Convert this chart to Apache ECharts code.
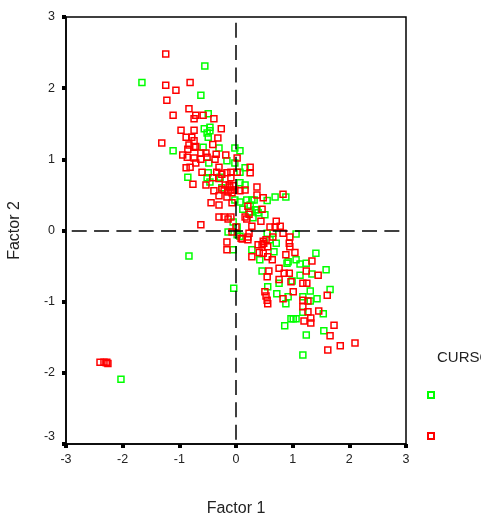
<!DOCTYPE html>
<html><head><meta charset="utf-8">
<style>html,body{margin:0;padding:0;background:#fff}#c{width:481px;height:515px}</style>
<script src="https://cdn.jsdelivr.net/npm/echarts@6/dist/echarts.min.js"></script>
</head><body><div id="c"></div>
<script>
var seriesNames = ['1','2'];
var legendTitle = 'CURSO';
var xName = 'Factor 1';
var yName = 'Factor 2';
var green = [[-0.55,2.31],[-1.66,2.08],[-0.62,1.90],[-0.49,1.64],[-0.56,1.43],[-0.46,1.45],[-0.46,1.40],[-0.51,1.37],[-0.49,1.31],[-1.11,1.12],[-0.58,1.17],[-0.30,1.16],[-0.02,1.16],[0.07,1.12],[-0.16,0.98],[-0.48,0.95],[-0.02,0.95],[0.16,0.88],[-0.85,0.75],[-0.49,0.81],[-0.51,0.74],[-0.46,0.68],[-0.28,0.75],[0.07,0.82],[0.16,0.64],[0.07,0.67],[-0.25,0.60],[-0.02,0.43],[0.07,0.40],[0.19,0.43],[0.28,0.43],[0.12,0.30],[0.25,0.36],[0.34,0.29],[0.30,0.18],[0.39,0.25],[-0.05,0.12],[-0.14,-0.02],[0.02,-0.06],[0.28,-0.27],[-0.05,-0.27],[-0.83,-0.36],[0.69,0.47],[0.88,0.47],[0.55,0.42],[0.32,0.43],[0.37,0.29],[0.51,0.22],[0.25,0.26],[0.02,0.05],[1.06,-0.05],[0.65,-0.04],[0.55,-0.04],[0.07,-0.08],[0.60,-0.13],[0.71,-0.18],[0.67,-0.30],[1.41,-0.32],[0.92,-0.44],[1.06,-0.41],[0.42,-0.41],[0.90,-0.46],[1.13,-0.47],[1.24,-0.46],[0.46,-0.57],[1.59,-0.55],[1.34,-0.61],[1.13,-0.63],[0.76,-0.74],[0.99,-0.71],[0.56,-0.79],[-0.04,-0.81],[1.31,-0.85],[1.66,-0.83],[0.72,-0.89],[0.92,-0.93],[1.43,-0.96],[0.88,-1.03],[1.18,-0.93],[1.31,-0.99],[1.18,-1.15],[1.54,-1.17],[0.97,-1.24],[1.01,-1.24],[1.06,-1.24],[0.86,-1.34],[1.55,-1.41],[1.24,-1.47],[1.18,-1.75],[-2.03,-2.09]];
var red = [[-1.24,2.48],[-1.24,2.04],[-0.81,2.08],[-1.06,1.97],[-1.22,1.83],[-0.83,1.71],[-1.11,1.62],[-0.71,1.62],[-0.58,1.62],[-0.74,1.57],[-0.39,1.57],[-0.97,1.41],[-0.74,1.41],[-0.26,1.43],[-0.88,1.31],[-0.78,1.31],[-0.32,1.30],[-0.74,1.26],[-1.31,1.23],[-0.83,1.20],[-0.41,1.21],[-0.74,1.17],[-0.85,1.14],[-0.71,1.18],[-0.94,1.06],[-0.86,1.03],[-0.74,1.02],[-0.71,0.95],[-0.62,1.09],[-0.62,1.00],[-0.53,1.09],[-0.51,1.03],[-0.35,1.07],[-0.37,1.00],[-0.18,1.06],[0.02,1.02],[-0.81,0.89],[-0.88,0.88],[-0.60,0.82],[-0.76,0.65],[-0.53,0.64],[-0.30,0.89],[-0.34,0.82],[-0.25,0.79],[-0.16,0.81],[-0.09,0.82],[-0.41,0.74],[-0.30,0.73],[-0.09,0.74],[0.02,0.82],[0.25,0.89],[0.25,0.81],[-0.39,0.56],[-0.30,0.49],[-0.19,0.64],[-0.21,0.57],[-0.11,0.61],[-0.14,0.54],[-0.07,0.53],[0.07,0.56],[0.16,0.57],[0.37,0.61],[0.37,0.50],[-0.16,0.47],[-0.02,0.57],[-0.07,0.39],[-0.44,0.39],[-0.30,0.36],[-0.30,0.19],[-0.21,0.19],[-0.14,0.16],[-0.09,0.19],[0.16,0.19],[0.19,0.16],[-0.62,0.08],[0.00,0.05],[-0.07,-0.02],[0.09,-0.11],[0.21,-0.09],[-0.16,-0.16],[-0.16,-0.27],[-0.12,0.64],[-0.05,0.63],[-0.25,0.58],[-0.09,0.57],[0.83,0.51],[0.48,0.46],[0.21,0.34],[0.46,0.30],[0.23,0.23],[0.44,0.13],[0.28,0.06],[0.60,0.05],[0.69,0.05],[0.78,0.06],[0.71,0.13],[0.23,-0.04],[0.83,-0.04],[0.95,-0.09],[0.11,-0.12],[0.21,-0.13],[0.48,-0.15],[0.65,-0.09],[0.94,-0.18],[0.46,-0.20],[0.56,-0.23],[0.95,-0.23],[0.41,-0.31],[0.48,-0.32],[1.04,-0.31],[0.88,-0.34],[0.28,-0.37],[0.56,-0.37],[0.64,-0.41],[1.34,-0.43],[0.76,-0.53],[0.58,-0.57],[0.85,-0.60],[0.94,-0.60],[1.24,-0.57],[1.45,-0.63],[0.55,-0.65],[0.76,-0.69],[0.97,-0.72],[1.18,-0.74],[1.25,-0.74],[0.51,-0.86],[1.01,-0.86],[0.53,-0.92],[0.55,-0.98],[0.83,-0.96],[0.56,-1.03],[1.18,-0.98],[1.27,-0.99],[1.18,-1.07],[1.61,-0.91],[1.46,-1.13],[1.27,-1.14],[1.32,-1.23],[1.20,-1.27],[1.32,-1.30],[1.73,-1.33],[1.66,-1.48],[2.10,-1.58],[1.84,-1.62],[1.62,-1.68],[0.49,-0.18],[0.53,-0.13],[0.39,-0.20],[-2.40,-1.85],[-2.33,-1.85],[-2.29,-1.86],[-2.26,-1.87],[-2.28,-1.85]];
var font = '"Liberation Sans", Arial, sans-serif';
var chart = echarts.init(document.getElementById('c'), null, {renderer:'canvas'});
function axis(name, gap, rot, margin, isY){
  return {type:'value',min:-3,max:3,interval:1,name:name,nameLocation:'middle',nameGap:gap,nameRotate:rot,
    nameTextStyle:{fontFamily:font,fontSize:16,color:'#222',letterSpacing:2},
    splitLine:{show:false},
    axisLine:{onZero:false,lineStyle:{color:'#000',width:1.5}},
    axisTick:{length:4,lineStyle:{color:'#000',width:4}},
    axisLabel:{margin:margin,fontFamily:font,fontSize:12.5,color:'#222',showMinLabel:true,showMaxLabel:true,
      formatter:function(v){return isY&&v===-3?'{low|-3}':String(v);},
      rich:{low:{fontFamily:font,fontSize:12.5,color:'#222',padding:[0,0,14,0]}}}};
}
function series(name,data,color,extra){
  var s={name:name,type:'scatter',data:data,symbol:'rect',symbolSize:6,
    itemStyle:{color:'rgba(0,0,0,0)',borderColor:color,borderWidth:1.5,opacity:1},
    emphasis:{disabled:true},animation:false};
  if(extra)s.markLine=extra;
  return s;
}
chart.setOption({
  animation:false,
  backgroundColor:'#fff',
  grid:{left:66,top:17,width:340,height:427,outerBoundsMode:'none',containLabel:false,show:true,borderColor:'#000',borderWidth:1.5,backgroundColor:'transparent'},
  xAxis:axis(xName,57,0,9,false),
  yAxis:axis(yName,43,90,11,true),
  legend:{show:true,orient:'vertical',left:427,top:391,itemWidth:6,itemHeight:6,itemGap:33,icon:'rect',
    formatter:function(){return '';},selectedMode:false,padding:0,
    data:seriesNames},
  graphic:[{type:'text',left:437,top:350,style:{text:legendTitle,font:'15px '+font,fill:'#222'}}],
  series:[
    series(seriesNames[0],green,'#00ff00'),
    series(seriesNames[1],red,'#ff0000',{silent:true,symbol:'none',animation:false,label:{show:false},
      lineStyle:{color:'#000',type:[15,7.33],width:1.5,dashOffset:16.6},
      data:[[{coord:[0,3]},{coord:[0,-3]}],[{coord:[-3,0]},{coord:[3,0]}]]})
  ]
});
</script></body></html>
